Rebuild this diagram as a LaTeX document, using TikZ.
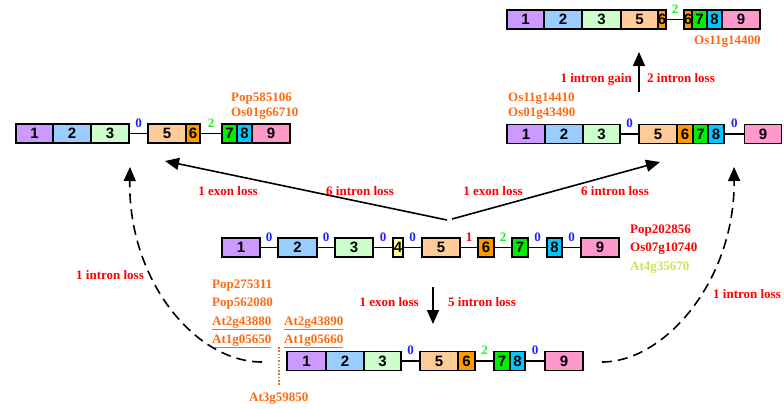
\documentclass[tikz,border=0pt]{standalone}
\usepackage{fontspec}
\setmainfont{Liberation Serif}
\setsansfont{Liberation Sans}
\usetikzlibrary{arrows.meta}

\definecolor{ex1}{HTML}{CC99FF}
\definecolor{ex2}{HTML}{99CCFF}
\definecolor{ex3}{HTML}{CCFFCC}
\definecolor{ex4}{HTML}{FFFF99}
\definecolor{ex5}{HTML}{FFCC99}
\definecolor{ex6}{HTML}{FF9900}
\definecolor{ex7}{HTML}{00EE00}
\definecolor{ex8}{HTML}{00C8FF}
\definecolor{ex9}{HTML}{FF99CC}
\definecolor{orng}{HTML}{FF6A10}
\definecolor{ylgr}{HTML}{C8E650}
\definecolor{phase0}{HTML}{2020FF}
\definecolor{phase2}{HTML}{22EE22}

\tikzset{
  exon/.style={draw=black,line width=1.5pt,inner sep=0pt,minimum height=19pt,
    font=\sffamily\bfseries\fontsize{15}{15}\selectfont},
  intron/.style={-,draw=black,line width=1.3pt},
  phase/.style={above=5.5pt,inner sep=0pt,font=\bfseries\fontsize{13}{13}\selectfont},
  lab/.style={inner sep=0pt,anchor=base west,font=\bfseries\fontsize{13}{13}\selectfont},
  evt/.style={inner sep=0pt,anchor=base,text=red,font=\bfseries\fontsize{13}{13}\selectfont},
  change/.style={-{Triangle[length=14pt,width=12pt]},draw=black,line width=1.6pt},
  hist/.style={change,dash pattern=on 10pt off 6pt}
}

\begin{document}
\begin{tikzpicture}[x=1pt,y=-1pt]
\useasboundingbox (0,0) rectangle (784,408);

% top gene
\node[exon,fill=ex1,minimum width=37pt] (t1) at (525.5,19.5) {1};
\node[exon,fill=ex2,minimum width=38pt] (t2) at (563,19.5) {2};
\node[exon,fill=ex3,minimum width=38pt] (t3) at (601.5,19.5) {3};
\node[exon,fill=ex5,minimum width=37pt] (t5) at (639.5,19.5) {5};
\node[exon,fill=ex6,minimum width=8pt] (t6a) at (662,19.5) {6};
\node[exon,fill=ex6,minimum width=8pt] (t6b) at (688,19.5) {6};
\node[exon,fill=ex7,minimum width=15pt] (t7) at (699.5,19.5) {7};
\node[exon,fill=ex8,minimum width=15pt] (t8) at (714.5,19.5) {8};
\node[exon,fill=ex9,minimum width=38pt] (t9) at (741,19.5) {9};
\path [intron] (t6a) edge node[phase,text=phase2] {2} (t6b);
\node[lab,text=orng] (tg1) at (694,44) {Os11g14400};

% left gene
\node[exon,fill=ex1,minimum width=37pt] (l1) at (34.5,133.5) {1};
\node[exon,fill=ex2,minimum width=38pt] (l2) at (72,133.5) {2};
\node[exon,fill=ex3,minimum width=38pt] (l3) at (110,133.5) {3};
\node[exon,fill=ex5,minimum width=38pt] (l5) at (167,133.5) {5};
\node[exon,fill=ex6,minimum width=14pt] (l6) at (193,133.5) {6};
\node[exon,fill=ex7,minimum width=15pt] (l7) at (229.5,133.5) {7};
\node[exon,fill=ex8,minimum width=15pt] (l8) at (244.5,133.5) {8};
\node[exon,fill=ex9,minimum width=38pt] (l9) at (271,133.5) {9};
\path [intron] (l3) edge node[phase,text=phase0] {0} (l5);
\path [intron] (l6) edge node[phase,text=phase2] {2} (l7);
\node[lab,text=orng] (lg1) at (231,101) {Pop585106};
\node[lab,text=orng] (lg2) at (231,116) {Os01g66710};

% right gene
\node[exon,fill=ex1,minimum width=38pt] (r1) at (526,134) {1};
\node[exon,fill=ex2,minimum width=38pt] (r2) at (564,134) {2};
\node[exon,fill=ex3,minimum width=37pt] (r3) at (601.5,134) {3};
\node[exon,fill=ex5,minimum width=38pt] (r5) at (658,134) {5};
\node[exon,fill=ex6,minimum width=16pt] (r6) at (685,134) {6};
\node[exon,fill=ex7,minimum width=15pt] (r7) at (700.5,134) {7};
\node[exon,fill=ex8,minimum width=16pt] (r8) at (716,134) {8};
\node[exon,fill=ex9,minimum width=37pt] (r9) at (763,134) {9};
\path [intron] (r3) edge node[phase,text=phase0] {0} (r5);
\path [intron] (r8) edge node[phase,text=phase0] {0} (r9);
\node[lab,text=orng] (rg1) at (508,101) {Os11g14410};
\node[lab,text=orng] (rg2) at (508,116) {Os01g43490};

% ancestral gene
\node[exon,fill=ex1,minimum width=38pt] (c1) at (241,247.5) {1};
\node[exon,fill=ex2,minimum width=39pt] (c2) at (297.5,247.5) {2};
\node[exon,fill=ex3,minimum width=38pt] (c3) at (354,247.5) {3};
\node[exon,fill=ex4,minimum width=10pt] (c4) at (398,247.5) {4};
\node[exon,fill=ex5,minimum width=38pt] (c5) at (441,247.5) {5};
\node[exon,fill=ex6,minimum width=16pt] (c6) at (486,247.5) {6};
\node[exon,fill=ex7,minimum width=16pt] (c7) at (520,247.5) {7};
\node[exon,fill=ex8,minimum width=15pt] (c8) at (554.5,247.5) {8};
\node[exon,fill=ex9,minimum width=38pt] (c9) at (600,247.5) {9};
\path [intron] (c1) edge node[phase,text=phase0] {0} (c2);
\path [intron] (c2) edge node[phase,text=phase0] {0} (c3);
\path [intron] (c3) edge node[phase,text=phase0] {0} (c4);
\path [intron] (c4) edge node[phase,text=phase0] {0} (c5);
\path [intron] (c5) edge node[phase,text=red] {1} (c6);
\path [intron] (c6) edge node[phase,text=phase2] {2} (c7);
\path [intron] (c7) edge node[phase,text=phase0] {0} (c8);
\path [intron] (c8) edge node[phase,text=phase0] {0} (c9);
\node[lab,text=red] (cg1) at (630,233) {Pop202856};
\node[lab,text=red] (cg2) at (630,251.5) {Os07g10740};
\node[lab,text=ylgr] (cg3) at (630,270.5) {At4g35670};

% bottom gene
\node[exon,fill=ex1,minimum width=39pt] (b1) at (306.5,361) {1};
\node[exon,fill=ex2,minimum width=38pt] (b2) at (345,361) {2};
\node[exon,fill=ex3,minimum width=37pt] (b3) at (382.5,361) {3};
\node[exon,fill=ex5,minimum width=38pt] (b5) at (439,361) {5};
\node[exon,fill=ex6,minimum width=17pt] (b6) at (466.5,361) {6};
\node[exon,fill=ex7,minimum width=16pt] (b7) at (502,361) {7};
\node[exon,fill=ex8,minimum width=15pt] (b8) at (517.5,361) {8};
\node[exon,fill=ex9,minimum width=38pt] (b9) at (564,361) {9};
\path [intron] (b3) edge node[phase,text=phase0] {0} (b5);
\path [intron] (b6) edge node[phase,text=phase2] {2} (b7);
\path [intron] (b8) edge node[phase,text=phase0] {0} (b9);
\node[lab,text=orng] (bg1) at (212,288.3) {Pop275311};
\node[lab,text=orng] (bg2) at (212,306.7) {Pop562080};
\node[lab,text=orng] (bg3) at (212,325) {\underline{At2g43880}};
\node[lab,text=orng] (bg4) at (212,343.3) {\underline{At1g05650}};
\node[lab,text=orng] (bg5) at (284,325) {\underline{At2g43890}};
\node[lab,text=orng] (bg6) at (284,343.3) {\underline{At1g05660}};
\node[lab,text=orng] (bg7) at (249,401.7) {At3g59850};
\coordinate (dt1) at (279,347);
\coordinate (dt2) at (279,385);
\draw[orng,line width=1.2pt,dash pattern=on 1.5pt off 1.8pt] (dt1) -- (dt2);

% events
\coordinate (src1) at (447,220);
\coordinate (dst1) at (165,161);
\coordinate (src2) at (452,219);
\coordinate (dst2) at (660,162);
\coordinate (src3) at (639,92);
\coordinate (dst3) at (639,52);
\coordinate (src4) at (433,287);
\coordinate (dst4) at (433,324);
\draw[change] (src1) -- (dst1);
\draw[change] (src2) -- (dst2);
\draw[change] (src3) -- (dst3);
\draw[change] (src4) -- (dst4);
\node[evt] (e1) at (228,195.7) {1 exon loss};
\node[evt] (e2) at (360,195.7) {6 intron loss};
\node[evt] (e3) at (493,195.7) {1 exon loss};
\node[evt] (e4) at (615,195.7) {6 intron loss};
\node[evt,anchor=base east] (e5) at (632,82.3) {1 intron gain};
\node[evt,anchor=base west] (e6) at (647,82.3) {2 intron loss};
\node[evt,anchor=base east] (e7) at (419,306.7) {1 exon loss};
\node[evt,anchor=base west] (e8) at (448,306.7) {5 intron loss};

% dashed history arrows
\coordinate (hl1) at (262,362);
\coordinate (hl2) at (130,167);
\coordinate (hr1) at (602,362);
\coordinate (hr2) at (734,167);
\draw[hist] (hl1) .. controls (195,362) and (128,280) .. (hl2);
\draw[hist] (hr1) .. controls (665,362) and (735,280) .. (hr2);
\node[evt,anchor=base west] (h1) at (76,279.3) {1 intron loss};
\node[evt,anchor=base west] (h2) at (713,298.3) {1 intron loss};
\end{tikzpicture}
\end{document}
